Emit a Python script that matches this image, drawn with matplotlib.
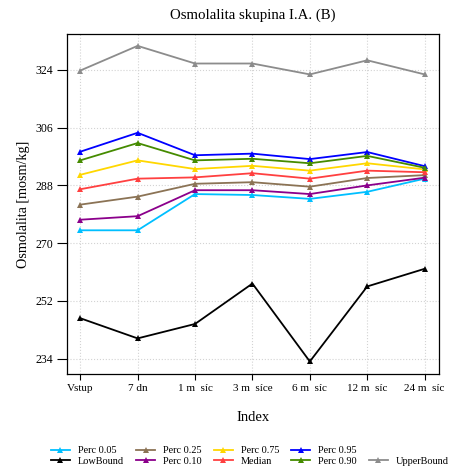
import matplotlib
matplotlib.use("Agg")
import matplotlib.pyplot as plt
from matplotlib.lines import Line2D

plt.rcParams['font.family'] = ['Liberation Serif', 'DejaVu Serif']

categories = ["Vstup", "7 dn", "1 m  síc", "3 m  síce", "6 m  síc", "12 m  síc", "24 m  síc"]

perc_005 = [274.0, 274.0, 285.3, 285.0, 283.8, 286.0, 290.1]
low_bound = [246.6, 240.3, 244.8, 257.4, 233.1, 256.5, 262.0]
perc_025 = [282.0, 284.5, 288.5, 289.0, 287.6, 290.3, 291.2]
perc_010 = [277.3, 278.4, 286.5, 286.5, 285.3, 288.0, 290.4]
perc_075 = [291.3, 295.8, 293.1, 294.1, 292.6, 294.9, 293.0]
median = [286.8, 290.1, 290.5, 291.8, 290.1, 292.6, 292.1]
perc_095 = [298.5, 304.4, 297.4, 297.9, 296.2, 298.4, 294.0]
perc_090 = [295.8, 301.2, 295.8, 296.3, 294.9, 297.2, 293.5]
upper_bound = [323.8, 331.5, 326.0, 326.0, 322.6, 327.0, 322.6]

yticks = [234, 252, 270, 288, 306, 324]

series = [
    ("Perc 0.05", perc_005, "#00BFFF"),
    ("LowBound", low_bound, "#000000"),
    ("Perc 0.25", perc_025, "#8B7355"),
    ("Perc 0.10", perc_010, "#8B008B"),
    ("Perc 0.75", perc_075, "#FFD700"),
    ("Median", median, "#FF4040"),
    ("Perc 0.95", perc_095, "#0000FF"),
    ("Perc 0.90", perc_090, "#458B00"),
    ("UpperBound", upper_bound, "#8C8C8C"),
]

fig = plt.figure(figsize=(4.52, 4.70), dpi=100)
ax = fig.add_axes([67/452, 1 - 374/470, (439-67)/452, (374-34)/470])

x = list(range(len(categories)))
handles = []
for name, vals, col in series:
    ln, = ax.plot(x, vals, color=col, lw=1.3, marker='^', markersize=4,
                  markeredgewidth=0, label=name, zorder=3)
    handles.append(ln)

ax.set_xlim(-0.23, 6.25)
ax.set_ylim(229.2, 335.2)
ax.set_xticks(x)
ax.set_xticklabels(categories, fontsize=8)
ax.set_yticks(yticks)
ax.set_yticklabels([str(t) for t in yticks], fontsize=8.5)
ax.grid(True, linestyle=':', color='#d3d3d3', lw=0.8, zorder=0)
ax.tick_params(axis='x', direction='out', length=4, width=0.8, pad=3)
ax.tick_params(axis='y', direction='out', length=7, width=0.8, pad=3)
for s in ax.spines.values():
    s.set_linewidth(0.9)

ax.set_title("Osmolalita skupina I.A. (B)", fontsize=10.7, pad=11)
ax.set_xlabel("Index", fontsize=10.5, labelpad=13)
ax.set_ylabel("Osmolalita [mosm/kg]", fontsize=10.2, labelpad=4)

blank = Line2D([], [], color='none')
leg_handles = handles[:8] + [blank, handles[8]]
leg_labels = [s[0] for s in series[:8]] + ["", series[8][0]]
leg = fig.legend(leg_handles, leg_labels, ncol=5, loc='center',
                 frameon=False, fontsize=7.4,
                 handlelength=1.8, columnspacing=1.2, labelspacing=0.12, handletextpad=0.8)
leg.set_bbox_to_anchor((250/452, 1 - 456/470), transform=fig.transFigure)

fig.savefig("out.png", dpi=100)
